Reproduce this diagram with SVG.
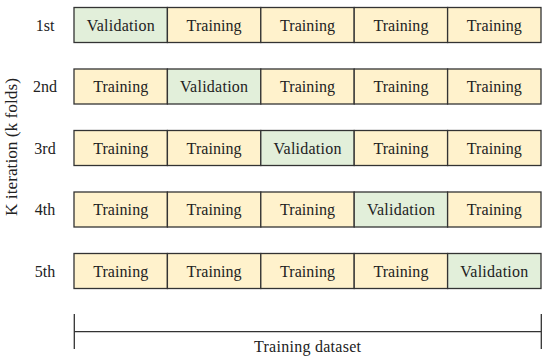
<svg xmlns="http://www.w3.org/2000/svg" width="550" height="361" viewBox="0 0 550 361">
<style>
text{font-family:"Liberation Serif","Times New Roman",serif;font-size:16px;fill:#222;}
.c{text-anchor:middle;}
.t{fill:#fff2cc;stroke:#333;stroke-width:1.3;}
.v{fill:#e2efda;stroke:#333;stroke-width:1.3;}
.ln{stroke:#333;stroke-width:1.3;fill:none;}
</style>
<rect width="550" height="361" fill="#fff"/>
<text class="c" transform="translate(17,147) rotate(-90)" textLength="138" lengthAdjust="spacingAndGlyphs">K iteration (k folds)</text>
<g id="row1">
<text class="c" x="45" y="30.5">1st</text>
<rect class="v" x="74" y="7.5" width="93.4" height="35"/><text class="c" x="120.7" y="30.5" textLength="68">Validation</text>
<rect class="t" x="167.4" y="7.5" width="93.4" height="35"/><text class="c" x="214.1" y="30.5" textLength="55">Training</text>
<rect class="t" x="260.8" y="7.5" width="93.4" height="35"/><text class="c" x="307.5" y="30.5" textLength="55">Training</text>
<rect class="t" x="354.2" y="7.5" width="93.4" height="35"/><text class="c" x="400.9" y="30.5" textLength="55">Training</text>
<rect class="t" x="447.6" y="7.5" width="93.4" height="35"/><text class="c" x="494.3" y="30.5" textLength="55">Training</text>
</g>
<g id="row2">
<text class="c" x="45" y="92">2nd</text>
<rect class="t" x="74" y="69" width="93.4" height="35"/><text class="c" x="120.7" y="92" textLength="55">Training</text>
<rect class="v" x="167.4" y="69" width="93.4" height="35"/><text class="c" x="214.1" y="92" textLength="68">Validation</text>
<rect class="t" x="260.8" y="69" width="93.4" height="35"/><text class="c" x="307.5" y="92" textLength="55">Training</text>
<rect class="t" x="354.2" y="69" width="93.4" height="35"/><text class="c" x="400.9" y="92" textLength="55">Training</text>
<rect class="t" x="447.6" y="69" width="93.4" height="35"/><text class="c" x="494.3" y="92" textLength="55">Training</text>
</g>
<g id="row3">
<text class="c" x="45" y="153.5">3rd</text>
<rect class="t" x="74" y="130.5" width="93.4" height="35"/><text class="c" x="120.7" y="153.5" textLength="55">Training</text>
<rect class="t" x="167.4" y="130.5" width="93.4" height="35"/><text class="c" x="214.1" y="153.5" textLength="55">Training</text>
<rect class="v" x="260.8" y="130.5" width="93.4" height="35"/><text class="c" x="307.5" y="153.5" textLength="68">Validation</text>
<rect class="t" x="354.2" y="130.5" width="93.4" height="35"/><text class="c" x="400.9" y="153.5" textLength="55">Training</text>
<rect class="t" x="447.6" y="130.5" width="93.4" height="35"/><text class="c" x="494.3" y="153.5" textLength="55">Training</text>
</g>
<g id="row4">
<text class="c" x="45" y="215">4th</text>
<rect class="t" x="74" y="192" width="93.4" height="35"/><text class="c" x="120.7" y="215" textLength="55">Training</text>
<rect class="t" x="167.4" y="192" width="93.4" height="35"/><text class="c" x="214.1" y="215" textLength="55">Training</text>
<rect class="t" x="260.8" y="192" width="93.4" height="35"/><text class="c" x="307.5" y="215" textLength="55">Training</text>
<rect class="v" x="354.2" y="192" width="93.4" height="35"/><text class="c" x="400.9" y="215" textLength="68">Validation</text>
<rect class="t" x="447.6" y="192" width="93.4" height="35"/><text class="c" x="494.3" y="215" textLength="55">Training</text>
</g>
<g id="row5">
<text class="c" x="45" y="276.5">5th</text>
<rect class="t" x="74" y="253.5" width="93.4" height="35"/><text class="c" x="120.7" y="276.5" textLength="55">Training</text>
<rect class="t" x="167.4" y="253.5" width="93.4" height="35"/><text class="c" x="214.1" y="276.5" textLength="55">Training</text>
<rect class="t" x="260.8" y="253.5" width="93.4" height="35"/><text class="c" x="307.5" y="276.5" textLength="55">Training</text>
<rect class="t" x="354.2" y="253.5" width="93.4" height="35"/><text class="c" x="400.9" y="276.5" textLength="55">Training</text>
<rect class="v" x="447.6" y="253.5" width="93.4" height="35"/><text class="c" x="494.3" y="276.5" textLength="68">Validation</text>
</g>
<g id="connectors">
<path class="ln" d="M74.3 314V349M541.3 314V349M74.3 331.7H541.3"/>
</g>
<g id="dataset-label">
<text class="c" x="307.5" y="351.5" textLength="107">Training dataset</text>
</g>
</svg>
